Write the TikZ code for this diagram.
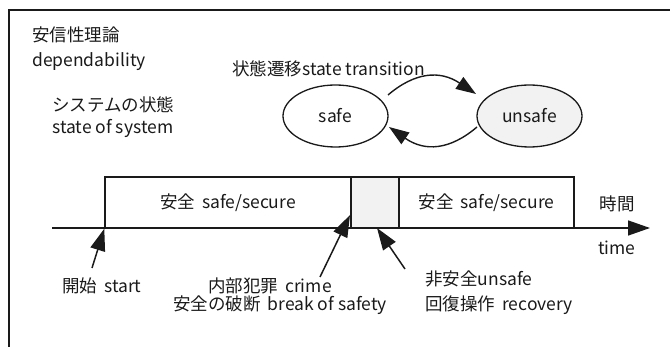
\documentclass[tikz,border=0pt]{standalone}
\usepackage{fontspec}
\setmainfont{Noto Sans CJK JP}
\usetikzlibrary{arrows.meta,shapes.geometric}
\definecolor{lightfill}{HTML}{F2F2F2}
\definecolor{ink}{HTML}{1A1A1A}
\begin{document}
\begin{tikzpicture}[x=1pt,y=-1pt,
  font=\fontsize{17.5}{20}\selectfont,
  txt/.style={inner sep=0pt, text=ink},
  tipline/.style={-{Triangle[length=22pt,width=15pt]}, line width=1.5pt, draw=ink},
  state/.style={ellipse, draw=ink, line width=1.3pt, minimum width=105pt, minimum height=62pt, inner sep=0pt, text=ink},
  period/.style={rectangle, draw=ink, line width=1.4pt, minimum height=51pt, inner sep=0pt, text=ink}]
\useasboundingbox (0,0) rectangle (670,347);
\draw[ink, line width=1.2pt] (9,347) -- (9,10) -- (670,10);
\node[txt, anchor=west] (t1) at (32,35) {安信性理論};
\node[txt, anchor=west] (t2) at (32,62) {dependability};
\node[txt, anchor=west] (t3) at (52,105) {システムの状態};
\node[txt, anchor=west] (t4) at (52,128) {state of system};
\node[txt, anchor=west] (t5) at (232,69) {状態遷移state transition};
\node[state] (safe) at (335.5,116) {safe};
\node[state, fill=lightfill] (unsafe) at (529.5,116) {unsafe};
\coordinate (s1) at (388,95);
\coordinate (u1) at (476,94);
\coordinate (u2) at (477,127);
\coordinate (s2) at (389,127);
\draw[tipline, -{Triangle[length=20pt,width=14pt]}, line width=1.4pt] (s1) .. controls (415,72) and (440,70) .. (u1);
\draw[tipline, -{Triangle[length=20pt,width=14pt]}, line width=1.4pt] (u2) .. controls (450,150) and (425,152) .. (s2);
\coordinate (tl0) at (52,228);
\coordinate (tl1) at (650,228);
\draw[tipline] (tl0) -- (tl1);
\node[period, minimum width=246pt] (p1) at (228,202.5) {安全\hspace{0.4em}safe/secure};
\node[period, minimum width=48pt, fill=lightfill] (p2) at (375,202.5) {};
\node[period, minimum width=175pt] (p3) at (486.5,202.5) {安全\hspace{0.4em}safe/secure};
\node[txt] (jt) at (617,204) {時間};
\node[txt] (et) at (617,248) {time};
\node[txt, anchor=west] (l1) at (62,286) {開始\hspace{0.4em}start};
\node[txt] (l2) at (270,286) {内部犯罪\hspace{0.4em}crime};
\node[txt] (l3) at (280,305) {安全の破断\hspace{0.4em}break of safety};
\node[txt, anchor=west] (l4) at (425,279) {非安全unsafe};
\node[txt, anchor=west] (l5) at (425,305) {回復操作\hspace{0.4em}recovery};
\coordinate (a1) at (92,268);
\coordinate (a2) at (320,277);
\coordinate (a3) at (405,269);
\coordinate (c2) at (350,215);
\coordinate (c3) at (377,228);
\draw[tipline] (a1) -- (p1.south west);
\draw[tipline] (a2) -- (c2);
\draw[tipline] (a3) -- (c3);
\end{tikzpicture}
\end{document}
